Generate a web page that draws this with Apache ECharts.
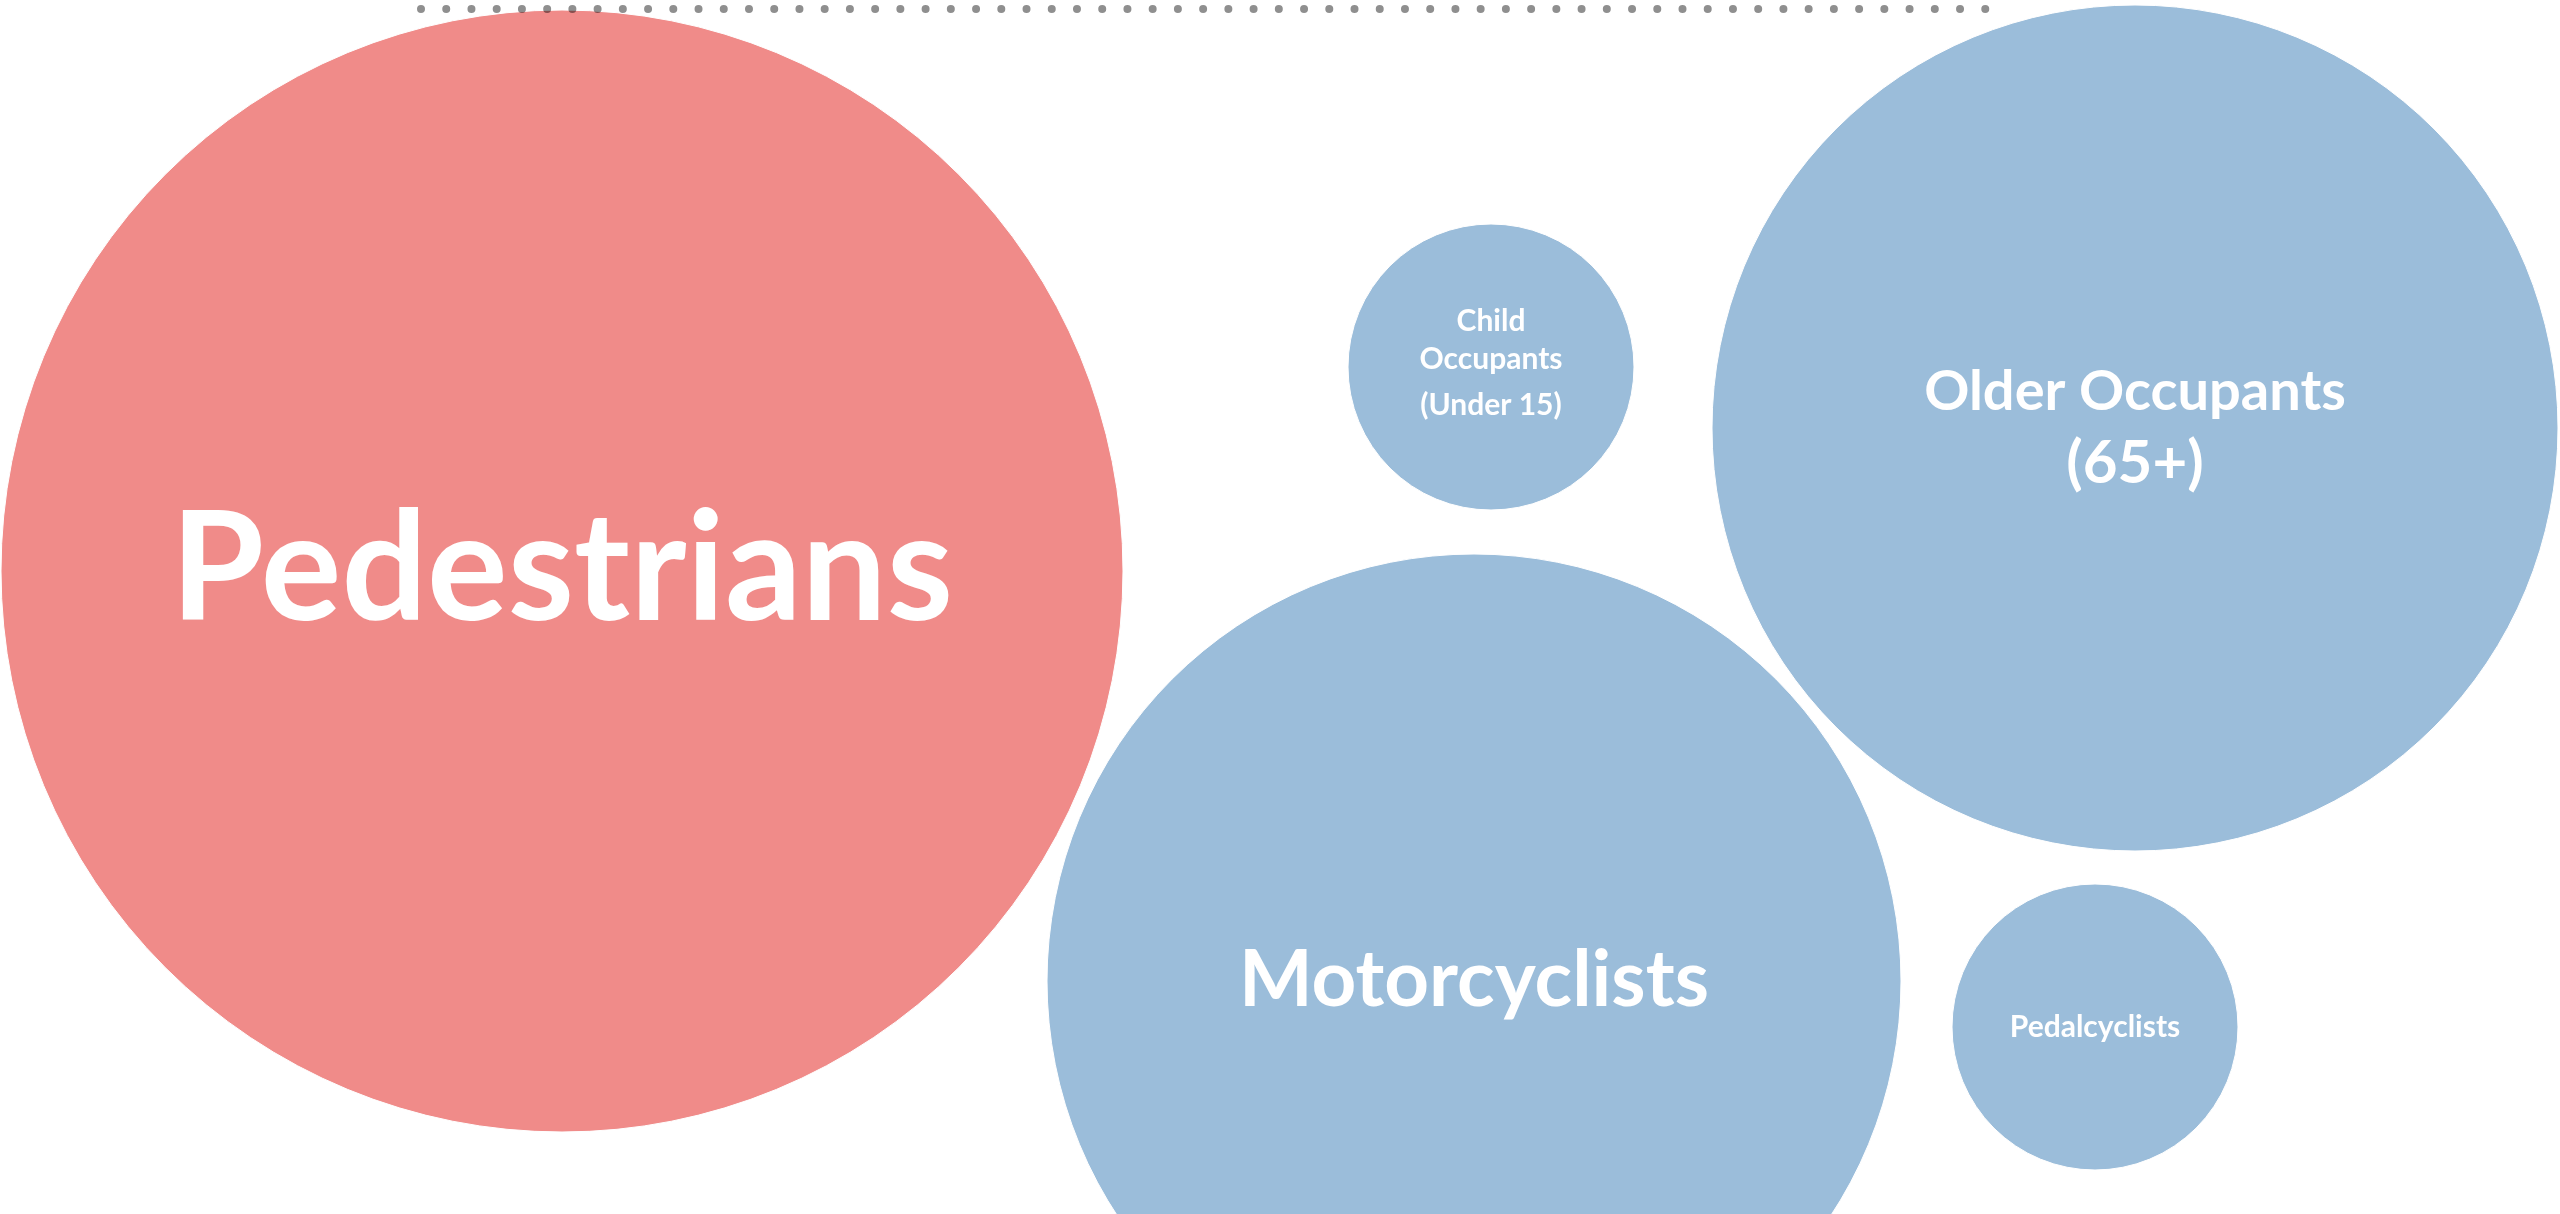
<!DOCTYPE html>
<html>
<head>
<meta charset="utf-8">
<script src="https://cdn.jsdelivr.net/npm/echarts@6/dist/echarts.min.js"></script>
<style>
  html, body { margin: 0; padding: 0; background: #fff; }
  #chart { width: 2560px; height: 1214px; }
</style>
</head>
<body>
<div id="chart"></div>
<script>
// bubble layout (chart units = pixels of the original)
const names = ['Pedestrians', 'Child Occupants (Under 15)', 'Older Occupants (65+)', 'Motorcyclists', 'Pedalcyclists']
const xValues = [562, 1491, 2135, 1474, 2095]
const yValues = [571, 367, 428, 981, 1027]
const radii = [561, 143, 423, 427, 143]
const highlighted = [true, false, false, false, false]

// dotted guide line at the top
const dotLineX = [421, 1986]
const dotLineY = [9, 9]

const PINK = '#F08B89'
const BLUE = '#9BBDDA'

const labelStyles = {
  'Pedestrians': {
    formatter: 'Pedestrians',
    fontSize: 151,
  },
  'Child Occupants (Under 15)': {
    formatter: '{a|Child}\n{a|Occupants}\n{b|(Under 15)}',
    rich: {
      a: { fontSize: 30, lineHeight: 38, fontWeight: 'bold', color: '#fff', fontFamily: 'Lato' },
      b: { fontSize: 30, lineHeight: 54, fontWeight: 'bold', color: '#fff', fontFamily: 'Lato' },
    },
  },
  'Older Occupants (65+)': {
    formatter: '{a|Older Occupants}\n{b|(65+)}',
    rich: {
      a: { fontSize: 56, lineHeight: 72, fontWeight: 'bold', color: '#fff', fontFamily: 'Lato' },
      b: { fontSize: 60, lineHeight: 72, fontWeight: 'bold', color: '#fff', fontFamily: 'Lato' },
    },
  },
  'Motorcyclists': {
    formatter: 'Motorcyclists',
    fontSize: 78,
  },
  'Pedalcyclists': {
    formatter: 'Pedalcyclists',
    fontSize: 30,
  },
}

const bubbles = names.map((name, i) => ({
  name,
  value: [xValues[i], yValues[i], radii[i]],
  itemStyle: { color: highlighted[i] ? PINK : BLUE },
  label: labelStyles[name],
}))

const chart = echarts.init(document.getElementById('chart'))

chart.setOption({
  animation: false,
  backgroundColor: '#ffffff',
  grid: { left: 0, right: 0, top: 0, bottom: 0 },
  xAxis: {
    type: 'value',
    min: 0,
    max: 2560,
    show: false,
  },
  yAxis: {
    type: 'value',
    min: 0,
    max: 1214,
    inverse: true,
    show: false,
  },
  series: [
    {
      type: 'scatter',
      data: bubbles,
      symbol: 'circle',
      symbolSize: (val) => val[2] * 2,
      itemStyle: {
        opacity: 1,
        borderColor: '#ffffff',
        borderWidth: 1,
      },
      label: {
        show: true,
        position: 'inside',
        color: '#ffffff',
        fontFamily: 'Lato',
        fontWeight: 'bold',
      },
      emphasis: { disabled: true },
      z: 2,
    },
    {
      type: 'line',
      data: dotLineX.map((x, i) => [x, dotLineY[i]]),
      symbol: 'none',
      lineStyle: {
        color: 'rgba(0, 0, 0, 0.44)',
        width: 8,
        type: [0, 25.23],
        cap: 'round',
      },
      silent: true,
      z: 3,
    },
  ],
})
</script>
</body>
</html>
